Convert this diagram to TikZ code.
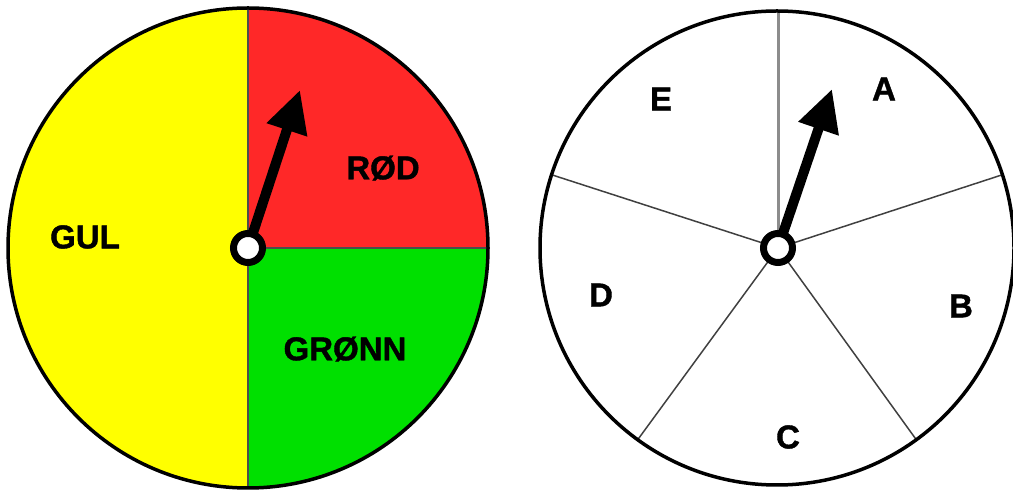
\documentclass[tikz,border=0pt]{standalone}
\usepackage{fontspec}
\setmainfont{Liberation Sans}
\newfontfamily\heavyfont[FakeBold=1.2]{Liberation Sans Bold}
\usetikzlibrary{arrows.meta,calc}
\definecolor{spinyellow}{RGB}{255,255,0}
\definecolor{spinred}{RGB}{255,40,40}
\definecolor{spingreen}{RGB}{0,224,0}
\definecolor{spokegray}{RGB}{140,140,140}
\begin{document}
\begin{tikzpicture}[x=1pt,y=1pt,
  lbl/.style={font=\fontsize{33}{33}\heavyfont, inner sep=0pt},
  rim/.style={draw=black, line width=3.5pt},
  divider/.style={draw=black!70, line width=1.5pt},
  spoke/.style={draw=black!75, line width=1.5pt},
  topspoke/.style={draw=spokegray, line width=3pt},
  hub/.style={circle, draw=black, fill=white, line width=7pt, minimum size=29pt, inner sep=0pt},
  pointer/.style={line width=10pt, -{Triangle[width=40pt,length=42pt]}}]
\useasboundingbox (0,0) rectangle (1013,490);
% ---------- left wheel ----------
\coordinate (L) at (248,242);
\fill[spinyellow] (L) ++(90:240) arc (90:270:240) -- cycle;
\fill[spinred] (L) -- ++(0:240) arc (0:90:240) -- cycle;
\fill[spingreen] (L) -- ++(0:240) arc (0:-90:240) -- cycle;
\draw[divider] (L) ++(0,240) -- ++(0,-480);
\draw[divider] (L) -- ++(240,0);
\draw[rim] (L) circle (240);
\node[lbl] (gul) at (85,253) {GUL};
\node[lbl] (rod) at (383,322) {RØD};
\node[lbl] (gronn) at (345,141) {GRØNN};
\coordinate (tipL) at (300,400);
\draw[pointer] (L) -- (tipL);
\node[hub] (hubL) at (L) {};
% ---------- right wheel ----------
\coordinate (R) at (777,242);
\coordinate (H) at (778,242);
\draw[topspoke] (H) -- ++(90:237);
\foreach \a in {18,-54,-126,162} {
  \draw[spoke] (H) -- ($(R)+(\a:237)$);
}
\draw[rim] (R) circle (237);
\node[lbl] (a) at (884,401) {A};
\node[lbl] (b) at (961,184) {B};
\node[lbl] (c) at (788,53) {C};
\node[lbl] (d) at (601,195) {D};
\node[lbl] (e) at (661,391) {E};
\coordinate (tipR) at (832,401);
\draw[pointer] (H) -- (tipR);
\node[hub] (hubR) at (H) {};
\end{tikzpicture}
\end{document}
